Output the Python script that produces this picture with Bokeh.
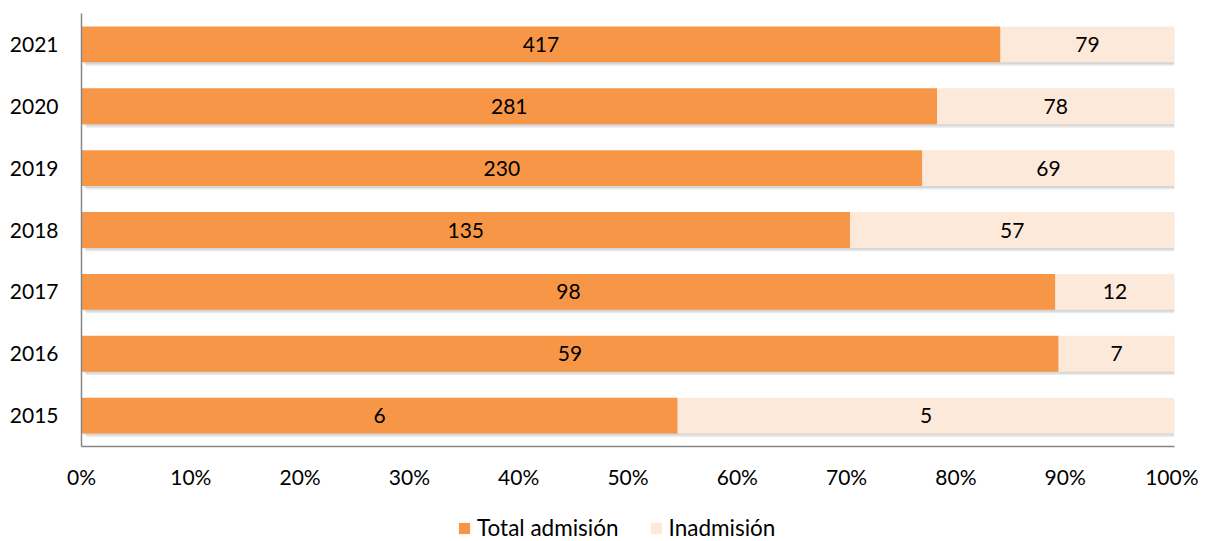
from bokeh.plotting import figure
from bokeh.layouts import column
from bokeh.models import ColumnDataSource, FactorRange, Legend, LegendItem, NumeralTickFormatter, FixedTicker
from bokeh.core.properties import value
from bokeh.transform import dodge
from bokeh.embed import file_html
from bokeh.resources import INLINE

years = ["2015", "2016", "2017", "2018", "2019", "2020", "2021"]
admision = [6, 59, 98, 135, 230, 281, 417]
inadmision = [5, 7, 12, 57, 69, 78, 79]
series_names = ["Total admisión", "Inadmisión"]
colors = ["#F79646", "#FDE9D9"]
x_ticks = [0, 0.1, 0.2, 0.3, 0.4, 0.5, 0.6, 0.7, 0.8, 0.9, 1.0]

FONT = "Lato"
FS = "21px"

tot = [a + b for a, b in zip(admision, inadmision)]
pa = [a / t for a, t in zip(admision, tot)]
src = ColumnDataSource(dict(
    year=years,
    pa=pa, one=[1.0] * len(years), zero=[0.0] * len(years),
    mid_a=[v / 2 for v in pa],
    mid_b=[v + (1 - v) / 2 for v in pa],
    a_txt=[str(v) for v in admision],
    b_txt=[str(v) for v in inadmision],
))

W = 1198
p = figure(width=W, height=500, output_backend="svg", toolbar_location=None,
           y_range=FactorRange(*years, range_padding=0), x_range=(0, 1),
           min_border_left=81, min_border_right=24, min_border_top=13, min_border_bottom=54)
p.outline_line_color = None
p.xgrid.grid_line_color = None
p.ygrid.grid_line_color = None

H = 0.58
# soft shadows
p.hbar(y=dodge("year", -0.055, range=p.y_range), left=0.004, right=1.003, height=H, source=src,
       fill_color="#9a9a9a", fill_alpha=0.22, line_color=None)
p.hbar(y=dodge("year", -0.03, range=p.y_range), left=0.002, right=1.002, height=H, source=src,
       fill_color="#8a8a8a", fill_alpha=0.2, line_color=None)

ra = p.hbar(y="year", left="zero", right="pa", height=H, source=src,
            fill_color=colors[0], line_color=None)
rb = p.hbar(y="year", left="pa", right="one", height=H, source=src,
            fill_color=colors[1], line_color=None)

p.text(x="mid_a", y="year", text="a_txt", source=src, text_align="center", text_baseline="middle",
       text_font=value(FONT), text_font_size=FS, text_color="#000000")
p.text(x="mid_b", y="year", text="b_txt", source=src, text_align="center", text_baseline="middle",
       text_font=value(FONT), text_font_size=FS, text_color="#000000")

for ax in (p.xaxis[0], p.yaxis[0]):
    ax.axis_line_color = "#868686"
    ax.axis_line_width = 1.5
    ax.major_tick_line_color = None
    ax.minor_tick_line_color = None
    ax.major_tick_out = 0
    ax.major_tick_in = 0
    ax.major_label_text_font = FONT
    ax.major_label_text_font_size = FS
    ax.major_label_text_color = "#000000"

p.xaxis.ticker = FixedTicker(ticks=x_ticks)
p.xaxis.formatter = NumeralTickFormatter(format="0%")
p.xaxis.major_label_standoff = 17
p.yaxis.major_label_standoff = 23

# legend strip below the chart (its frame is aligned with the chart's frame)
lg = figure(width=W, height=41, output_backend="svg", toolbar_location=None,
            x_range=(0, 1), y_range=(0, 1),
            min_border_left=0, min_border_right=0, min_border_top=0, min_border_bottom=0)
lg.axis.visible = False
lg.grid.visible = False
lg.outline_line_color = None
# legend keys: one entry per series, placed outside the strip's visible range
key_src = ColumnDataSource(dict(y=[5], left=[5], right=[6]))
la = lg.hbar(y="y", left="left", right="right", height=1, source=key_src,
             fill_color=colors[0], line_color=None)
lb = lg.hbar(y="y", left="left", right="right", height=1, source=key_src,
             fill_color=colors[1], line_color=None)
legend = Legend(items=[LegendItem(label=series_names[0], renderers=[la]),
                       LegendItem(label=series_names[1], renderers=[lb])],
                orientation="horizontal", location=(376, 0),
                label_text_font=FONT, label_text_font_size="22.5px", label_text_color="#000000",
                glyph_width=14, glyph_height=14, spacing=30, label_standoff=6,
                background_fill_alpha=0, border_line_color=None, padding=0, margin=0)
lg.add_layout(legend, "center")

open("out.html", "w").write(file_html(column(p, lg, spacing=0), INLINE))
